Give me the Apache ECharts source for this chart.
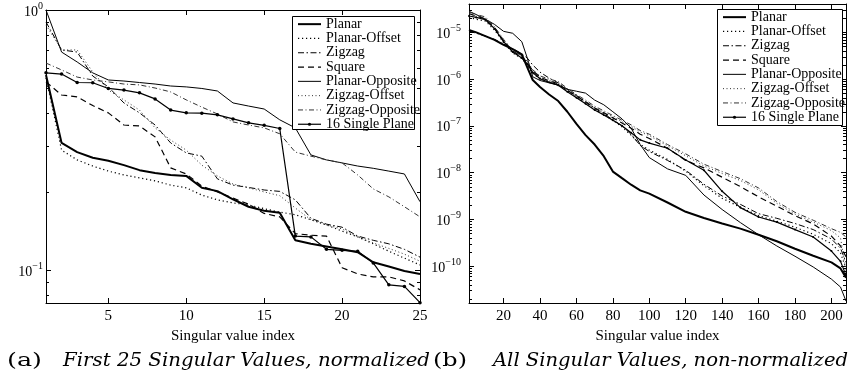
<!DOCTYPE html>
<html>
<head>
<meta charset="utf-8">
<script src="https://cdn.jsdelivr.net/npm/echarts@6/dist/echarts.min.js"></script>
<style>
  html, body { margin: 0; padding: 0; background: #fff; }
  #chart { width: 852px; height: 383px; }
</style>
</head>
<body>
<div id="chart"></div>
<script>
// ---- series names (legend order) ----
const seriesNames = ['Planar', 'Planar-Offset', 'Zigzag', 'Square', 'Planar-Opposite',
  'Zigzag-Offset', 'Zigzag-Opposite', '16 Single Plane'];

// ---- (a) first 25 singular values, normalized ----
const idxA = [1, 2, 3, 4, 5, 6, 7, 8, 9, 10, 11, 12, 13, 14, 15, 16, 17, 18, 19, 20, 21, 22, 23, 24, 25];
const planarA = [0.562, 0.308, 0.284, 0.270, 0.263, 0.253, 0.242, 0.236, 0.232, 0.230, 0.207, 0.201, 0.187, 0.175, 0.169, 0.166, 0.130, 0.126, 0.123, 0.120, 0.117, 0.107, 0.103, 0.099, 0.0965];
const planarOffsetA = [0.548, 0.289, 0.265, 0.251, 0.240, 0.232, 0.226, 0.220, 0.212, 0.207, 0.194, 0.186, 0.181, 0.178, 0.172, 0.167, 0.163, 0.156, 0.149, 0.141, 0.134, 0.126, 0.118, 0.111, 0.1045];
const zigzagA = [0.899, 0.702, 0.689, 0.557, 0.506, 0.439, 0.402, 0.361, 0.308, 0.282, 0.274, 0.224, 0.212, 0.2076, 0.203, 0.2005, 0.186, 0.158, 0.150, 0.146, 0.135, 0.130, 0.126, 0.120, 0.112];
const squareA = [0.529, 0.471, 0.463, 0.429, 0.402, 0.361, 0.358, 0.325, 0.247, 0.234, 0.210, 0.1995, 0.189, 0.179, 0.165, 0.160, 0.138, 0.136, 0.135, 0.102, 0.0965, 0.094, 0.094, 0.0907, 0.0838];
const planarOppositeA = [1.0, 0.689, 0.631, 0.573, 0.538, 0.533, 0.526, 0.519, 0.510, 0.506, 0.499, 0.488, 0.439, 0.427, 0.416, 0.378, 0.352, 0.277, 0.265, 0.258, 0.251, 0.246, 0.240, 0.234, 0.183];
const zigzagOffsetA = [0.876, 0.702, 0.702, 0.578, 0.492, 0.451, 0.412, 0.352, 0.316, 0.289, 0.253, 0.230, 0.214, 0.207, 0.1995, 0.193, 0.173, 0.156, 0.149, 0.1438, 0.134, 0.127, 0.121, 0.115, 0.108];
const zigzagOppositeA = [0.625, 0.588, 0.552, 0.538, 0.529, 0.519, 0.515, 0.501, 0.484, 0.451, 0.423, 0.398, 0.371, 0.361, 0.352, 0.334, 0.284, 0.274, 0.265, 0.258, 0.232, 0.205, 0.191, 0.175, 0.160];
const singlePlaneA = [0.573, 0.567, 0.526, 0.525, 0.499, 0.492, 0.480, 0.455, 0.412, 0.402, 0.401, 0.395, 0.381, 0.368, 0.360, 0.350, 0.135, 0.134, 0.120, 0.119, 0.118, 0.1064, 0.0876, 0.0864, 0.0748];
const xTicksA = [5, 10, 15, 20, 25];
const minorTicksA = [0.08, 0.09, 0.2, 0.3, 0.4, 0.5, 0.6, 0.7, 0.8, 0.9];

// ---- (b) all singular values, non-normalized ----
const idxB = [1, 5, 10, 15, 20, 25, 30, 33, 36, 40, 45, 50, 55, 60, 65, 70, 75, 80, 85, 90, 95, 100, 110, 120, 130, 140, 150, 160, 170, 180, 190, 200, 205, 208];
const planarB = [1.12e-5, 1.00e-5, 8.32e-6, 6.92e-6, 5.37e-6, 4.37e-6, 3.39e-6, 1.78e-6, 9.55e-7, 6.76e-7, 4.68e-7, 3.39e-7, 2.00e-7, 1.10e-7, 6.31e-8, 3.98e-8, 2.24e-8, 1.05e-8, 7.59e-9, 5.50e-9, 4.17e-9, 3.55e-9, 2.29e-9, 1.45e-9, 1.07e-9, 8.13e-10, 6.31e-10, 4.68e-10, 3.39e-10, 2.34e-10, 1.66e-10, 1.20e-10, 8.91e-11, 5.62e-11];
const planarOffsetB = [2.09e-5, 1.91e-5, 1.74e-5, 1.12e-5, 6.03e-6, 3.63e-6, 2.75e-6, 2.00e-6, 1.32e-6, 1.00e-6, 8.71e-7, 7.59e-7, 5.62e-7, 4.17e-7, 3.09e-7, 2.29e-7, 1.74e-7, 1.32e-7, 9.55e-8, 6.31e-8, 3.98e-8, 3.02e-8, 1.91e-8, 1.07e-8, 5.25e-9, 2.82e-9, 1.82e-9, 1.20e-9, 9.12e-10, 6.76e-10, 4.79e-10, 3.02e-10, 1.91e-10, 8.91e-11];
const zigzagB = [1.07e-5, 9.55e-6, 8.32e-6, 7.08e-6, 5.62e-6, 4.47e-6, 3.47e-6, 2.82e-6, 2.00e-6, 1.41e-6, 1.05e-6, 8.32e-7, 6.03e-7, 4.47e-7, 3.31e-7, 2.40e-7, 1.82e-7, 1.35e-7, 1.00e-7, 6.61e-8, 3.80e-8, 2.82e-8, 1.82e-8, 1.12e-8, 5.62e-9, 3.16e-9, 2.09e-9, 1.32e-9, 1.05e-9, 8.13e-10, 6.03e-10, 3.80e-10, 2.40e-10, 1.20e-10];
const squareB = [2.51e-5, 2.24e-5, 1.91e-5, 1.26e-5, 6.61e-6, 3.98e-6, 3.02e-6, 2.24e-6, 1.51e-6, 1.10e-6, 9.12e-7, 7.94e-7, 5.75e-7, 4.37e-7, 3.24e-7, 2.40e-7, 1.91e-7, 1.48e-7, 1.15e-7, 8.91e-8, 6.61e-8, 5.37e-8, 3.31e-8, 1.82e-8, 1.26e-8, 7.94e-9, 5.01e-9, 3.02e-9, 1.91e-9, 1.20e-9, 7.94e-10, 4.37e-10, 2.69e-10, 1.58e-10];
const planarOppositeB = [2.82e-5, 2.40e-5, 1.91e-5, 1.48e-5, 1.05e-5, 9.55e-6, 6.31e-6, 2.82e-6, 1.12e-6, 9.33e-7, 8.32e-7, 7.41e-7, 6.03e-7, 5.50e-7, 5.01e-7, 3.55e-7, 2.82e-7, 2.00e-7, 1.41e-7, 8.91e-8, 3.98e-8, 2.09e-8, 1.20e-8, 8.71e-9, 3.31e-9, 1.62e-9, 8.51e-10, 4.68e-10, 2.69e-10, 1.62e-10, 9.55e-11, 5.25e-11, 3.55e-11, 1.78e-11];
const zigzagOffsetB = [2.51e-5, 2.19e-5, 2.00e-5, 1.20e-5, 6.61e-6, 3.98e-6, 2.95e-6, 2.19e-6, 1.45e-6, 1.07e-6, 9.33e-7, 8.13e-7, 5.89e-7, 4.27e-7, 3.24e-7, 2.45e-7, 1.95e-7, 1.55e-7, 1.23e-7, 9.77e-8, 7.41e-8, 6.17e-8, 3.72e-8, 2.29e-8, 1.38e-8, 9.55e-9, 6.76e-9, 4.27e-9, 2.19e-9, 1.29e-9, 8.71e-10, 5.75e-10, 3.98e-10, 7.94e-11];
const zigzagOppositeB = [2.75e-5, 2.40e-5, 2.14e-5, 1.32e-5, 7.08e-6, 4.17e-6, 3.16e-6, 2.40e-6, 1.58e-6, 1.17e-6, 1.00e-6, 8.91e-7, 6.31e-7, 4.68e-7, 3.55e-7, 2.63e-7, 2.09e-7, 1.66e-7, 1.32e-7, 1.05e-7, 7.94e-8, 6.61e-8, 3.98e-8, 2.51e-8, 1.51e-8, 1.05e-8, 7.41e-9, 4.68e-9, 2.40e-9, 1.41e-9, 9.55e-10, 6.31e-10, 5.25e-10, 4.17e-10];
const singlePlaneB = [2.24e-5, 2.09e-5, 1.86e-5, 1.20e-5, 6.31e-6, 3.80e-6, 2.82e-6, 2.09e-6, 1.38e-6, 1.02e-6, 8.51e-7, 7.41e-7, 5.37e-7, 3.98e-7, 2.95e-7, 2.19e-7, 1.70e-7, 1.32e-7, 1.00e-7, 7.08e-8, 5.01e-8, 4.27e-8, 3.31e-8, 1.86e-8, 1.12e-8, 3.98e-9, 1.78e-9, 1.12e-9, 8.71e-10, 6.03e-10, 4.17e-10, 2.09e-10, 1.26e-10, 6.31e-11];
const xTicksB = [20, 40, 60, 80, 100, 120, 140, 160, 180, 200];
const minorMantissas = [2, 3, 4, 5, 6, 7, 8, 9];
const minorDecadesB = [-11, -10, -9, -8, -7, -6, -5];

const valuesA = [planarA, planarOffsetA, zigzagA, squareA, planarOppositeA, zigzagOffsetA, zigzagOppositeA, singlePlaneA];
const valuesB = [planarB, planarOffsetB, zigzagB, squareB, planarOppositeB, zigzagOffsetB, zigzagOppositeB, singlePlaneB];

const SERIF = '"Liberation Serif", "Times New Roman", serif';
const CAPTION_FONT = '"DejaVu Serif", serif';

const yRangeA = [0.0746, 1];
const yRangeB = [1.62e-11, 4.04e-5];

// line look for each configuration
const lineLook = {
  'Planar':          { width: 2,   type: 'solid',               color: '#000' },
  'Planar-Offset':   { width: 1.2, type: [1.2, 2.8],            color: '#000' },
  'Zigzag':          { width: 1,   type: [6, 2.5, 1.5, 2.5],    color: '#000' },
  'Square':          { width: 1.2, type: [6, 4],                color: '#000' },
  'Planar-Opposite': { width: 1,   type: 'solid',               color: '#000' },
  'Zigzag-Offset':   { width: 1,   type: [1, 2.5],              color: '#333' },
  'Zigzag-Opposite': { width: 1,   type: [5, 2.5, 1, 2.5],      color: '#333' },
  '16 Single Plane': { width: 1.2, type: 'solid',               color: '#000' }
};

function makeSeries(values, idx, gridIdx, dotSize) {
  return seriesNames.map((name, k) => {
    const look = lineLook[name];
    const dotted = name === '16 Single Plane';
    return {
      name: name,
      type: 'line',
      xAxisIndex: gridIdx * 2,
      yAxisIndex: gridIdx * 2,
      data: idx.map((x, i) => [x, values[k][i]]),
      symbol: dotted ? 'circle' : 'none',
      symbolSize: dotted ? dotSize : 0,
      showSymbol: dotted,
      itemStyle: { color: look.color },
      lineStyle: { color: look.color, width: look.width, type: look.type, cap: 'butt' },
      animation: false,
      silent: true,
      z: name === 'Planar' ? 3 : 2
    };
  });
}

// short inside ticks on both vertical frame edges at the minor log values
function minorTickSeries(gridIdx, values, xAt) {
  return {
    type: 'custom',
    name: 'minor ticks ' + gridIdx,
    coordinateSystem: 'cartesian2d',
    xAxisIndex: gridIdx * 2,
    yAxisIndex: gridIdx * 2,
    silent: true,
    animation: false,
    clip: false,
    z: 4,
    data: values.map(v => [xAt, v]),
    renderItem: function (params, api) {
      const p = api.coord([api.value(0), api.value(1)]);
      const cs = params.coordSys;
      const y = Math.round(p[1]) + 0.5;
      const st = { stroke: '#000', lineWidth: 1 };
      return {
        type: 'group',
        children: [
          { type: 'line', shape: { x1: cs.x, y1: y, x2: cs.x + 3, y2: y }, style: st },
          { type: 'line', shape: { x1: cs.x + cs.width - 3, y1: y, x2: cs.x + cs.width, y2: y }, style: st }
        ]
      };
    }
  };
}

const minorTicksB = [];
minorDecadesB.forEach(d => minorMantissas.forEach(m => {
  const v = m * Math.pow(10, d);
  if (v > yRangeB[0] && v < yRangeB[1]) minorTicksB.push(v);
}));

function powLabel(v) {
  const e = Math.log10(v);
  const r = Math.round(e);
  if (Math.abs(e - r) > 1e-6) return '';
  return '{b|10}{s|' + (r < 0 ? '\u2212' + (-r) : String(r)) + '}';
}
const powRich = {
  b: { fontFamily: SERIF, fontSize: 14, color: '#000', lineHeight: 18, verticalAlign: 'bottom' },
  s: { fontFamily: SERIF, fontSize: 10, color: '#000', lineHeight: 18, verticalAlign: 'top' }
};

function xAxes(gridIdx, min, max, ticks) {
  const common = {
    type: 'value', gridIndex: gridIdx, min: min, max: max,
    splitLine: { show: false },
    axisLine: { show: true, onZero: false, lineStyle: { color: '#000', width: 1 } },
    axisTick: { show: true, inside: true, length: 5, customValues: ticks, lineStyle: { color: '#000' } }
  };
  return [
    Object.assign({}, common, {
      position: 'bottom',
      axisLabel: { show: true, customValues: ticks, margin: 6, fontFamily: SERIF, fontSize: 15, color: '#000' },
      name: 'Singular value index', nameLocation: 'middle', nameGap: 25,
      nameTextStyle: { fontFamily: SERIF, fontSize: 15, color: '#000' }
    }),
    Object.assign({}, common, { position: 'top', axisLabel: { show: false } })
  ];
}

function yAxes(gridIdx, range, labelMargin, showMax) {
  const common = {
    type: 'log', logBase: 10, gridIndex: gridIdx, min: range[0], max: range[1],
    splitLine: { show: false },
    axisLine: { show: true, onZero: false, lineStyle: { color: '#000', width: 1 } },
    axisTick: { show: true, inside: true, length: 5, lineStyle: { color: '#000' } }
  };
  return [
    Object.assign({}, common, {
      position: 'left',
      axisLabel: { show: true, margin: labelMargin, formatter: powLabel, rich: powRich,
        showMinLabel: false, showMaxLabel: showMax }
    }),
    Object.assign({}, common, { position: 'right', axisLabel: { show: false } })
  ];
}

function legendFor(left, top) {
  return {
    orient: 'vertical', left: left, top: top,
    itemWidth: 23, itemHeight: 4, itemGap: 0, padding: 0,
    selectedMode: false,
    textStyle: { fontFamily: SERIF, fontSize: 14, color: '#000', lineHeight: 14.3 },
    lineStyle: { width: 'inherit' },
    data: seriesNames.map(n => n === '16 Single Plane'
      ? { name: n, itemStyle: { color: '#000' } }
      : { name: n, itemStyle: { opacity: 0 } }),
    z: 6
  };
}

// stretch caption text to its column width
const measureCtx = document.createElement('canvas').getContext('2d');
function captionScale(text, font, width) {
  measureCtx.font = font;
  return width / measureCtx.measureText(text).width;
}
const capItalic = 'italic 18px ' + CAPTION_FONT;
const capUpright = '18px ' + CAPTION_FONT;
const capA = 'First 25 Singular Values, normalized';
const capB = 'All Singular Values, non-normalized';

const chart = echarts.init(document.getElementById('chart'), null, { renderer: 'canvas' });
chart.setOption({
  animation: false,
  backgroundColor: '#fff',
  grid: [
    { left: 46, top: 10, width: 374, height: 293, containLabel: false },
    { left: 469, top: 4, width: 377, height: 299, containLabel: false }
  ],
  xAxis: [].concat(xAxes(0, 1, 25, xTicksA), xAxes(1, 1, 208, xTicksB)),
  yAxis: [].concat(yAxes(0, yRangeA, 3, true), yAxes(1, yRangeB, 8, false)),
  legend: [legendFor(297, 17), legendFor(722, 10)],
  series: [].concat(
    makeSeries(valuesA, idxA, 0, 3.5),
    makeSeries(valuesB, idxB, 1, 2),
    [minorTickSeries(0, minorTicksA, 1), minorTickSeries(1, minorTicksB, 1)]
  ),
  graphic: [
    { type: 'rect', z: 5, shape: { x: 292.5, y: 16.5, width: 122, height: 113 },
      style: { fill: '#fff', stroke: '#000', lineWidth: 1 } },
    { type: 'rect', z: 5, shape: { x: 717.5, y: 9.5, width: 125, height: 116 },
      style: { fill: '#fff', stroke: '#000', lineWidth: 1 } },
    { type: 'text', x: 7, y: 361, style: { text: '(a)', font: capUpright, fill: '#000', textVerticalAlign: 'middle' },
      scaleX: captionScale('(a)', capUpright, 35) },
    { type: 'text', x: 63, y: 361, style: { text: capA, font: capItalic, fill: '#000', textVerticalAlign: 'middle' },
      scaleX: captionScale(capA, capItalic, 367) },
    { type: 'text', x: 433, y: 361, style: { text: '(b)', font: capUpright, fill: '#000', textVerticalAlign: 'middle' },
      scaleX: captionScale('(b)', capUpright, 34) },
    { type: 'text', x: 493, y: 361, style: { text: capB, font: capItalic, fill: '#000', textVerticalAlign: 'middle' },
      scaleX: captionScale(capB, capItalic, 355) }
  ]
});
</script>
</body>
</html>
